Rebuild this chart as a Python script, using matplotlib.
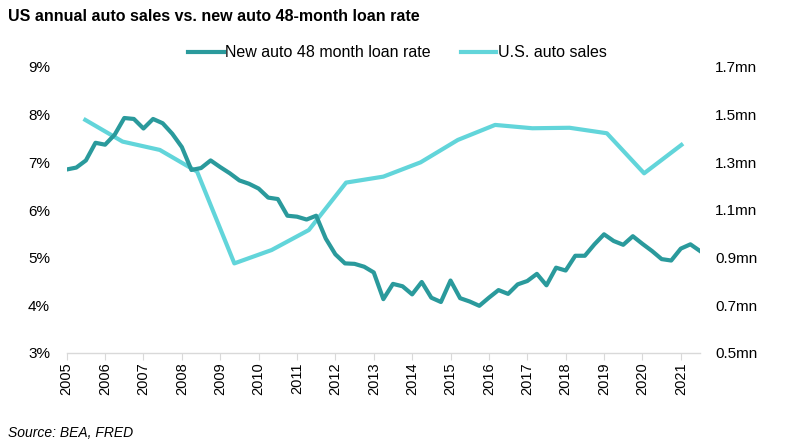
import numpy as np
import matplotlib
matplotlib.use("Agg")
import matplotlib.pyplot as plt

plt.rcParams['font.family'] = ['Liberation Sans', 'DejaVu Sans']

# quarterly new auto 48 month loan rate (%), 2005Q1 .. 2021Q3
loan_rate = [6.85, 6.89, 7.04, 7.41, 7.37, 7.58, 7.93, 7.91, 7.71, 7.91, 7.82, 7.60,
             7.32, 6.84, 6.88, 7.04, 6.90, 6.77, 6.62, 6.55, 6.45, 6.26, 6.23, 5.88,
             5.86, 5.80, 5.88, 5.40, 5.07, 4.88, 4.87, 4.81, 4.69, 4.13, 4.45, 4.40,
             4.23, 4.49, 4.16, 4.07, 4.52, 4.15, 4.08, 3.99, 4.16, 4.32, 4.24, 4.44,
             4.51, 4.66, 4.42, 4.79, 4.73, 5.04, 5.04, 5.28, 5.49, 5.35, 5.27, 5.45,
             5.29, 5.14, 4.97, 4.94, 5.19, 5.28, 5.14]
# annual U.S. auto sales (mn), 2005 .. 2021
sales_years = list(range(2005, 2022))
auto_sales = [1.478, 1.387, 1.352, 1.261, 0.876, 0.932, 1.016, 1.215, 1.240, 1.300,
              1.394, 1.457, 1.443, 1.445, 1.422, 1.254, 1.373]
year_ticks = list(range(2005, 2022))

dark = '#2a9a9c'
light = '#62d5da'

x_q = 2005 + np.arange(len(loan_rate)) / 4.0
x_end = x_q[-1]
# annual points sit in the middle of equal slots across the axis width (secondary category axis)
n = len(auto_sales)
x_a = 2005 + (x_end - 2005) * (np.arange(n) + 0.5) / n

fig = plt.figure(figsize=(8, 4.45), dpi=100)
ax = fig.add_axes([66.7 / 800, 1 - 353 / 445, (700 - 66.7) / 800, (353 - 67) / 445])
ax2 = ax.twinx()

l1, = ax.plot(x_q, loan_rate, color=dark, lw=3, solid_joinstyle='round', zorder=3)
l2, = ax2.plot(x_a, auto_sales, color=light, lw=3, solid_joinstyle='round', zorder=2)
ax.set_zorder(ax2.get_zorder() + 1)
ax.patch.set_visible(False)

ax.set_xlim(2005, x_end)
ax.set_ylim(3, 9)
ax2.set_ylim(0.5, 1.7)
ax.set_yticks(range(3, 10))
ax.set_yticklabels([f'{v}%' for v in range(3, 10)])
ax2.set_yticks(np.arange(0.5, 1.71, 0.2))
ax2.set_yticklabels([f'{v:.1f}mn' for v in np.arange(0.5, 1.71, 0.2)])
ax.set_xticks(year_ticks)
ax.set_xticklabels([str(y) for y in year_ticks], rotation=90, fontsize=10.5)

for a in (ax, ax2):
    for s in ('top', 'left', 'right', 'bottom'):
        a.spines[s].set_visible(False)
ax.spines['bottom'].set_visible(True)
ax.spines['bottom'].set_color('#d9d9d9')
ax.spines['bottom'].set_linewidth(1)

ax.tick_params(axis='y', length=0, labelsize=11, pad=12)
ax2.tick_params(axis='y', length=0, labelsize=11, pad=11)
ax.tick_params(axis='x', length=5, color='#d9d9d9', pad=1.5)

fig.text(0.01, 0.963, 'US annual auto sales vs. new auto 48-month loan rate',
         fontsize=11.5, fontweight='bold', va='center')
fig.text(0.01, 0.027, 'Source: BEA, FRED', fontsize=10, style='italic', va='center')

fig.legend([l1, l2], ['New auto 48 month loan rate', 'U.S. auto sales'],
           loc='center', bbox_to_anchor=(0.497, 0.881), ncol=2, frameon=False,
           fontsize=11.5, handlelength=2.2, handletextpad=0.1, columnspacing=1.9)

fig.savefig('out.png', dpi=100)
